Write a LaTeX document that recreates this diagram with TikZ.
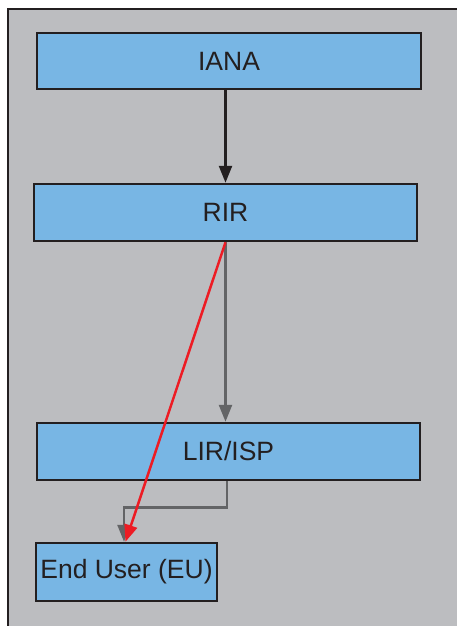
\documentclass[tikz,border=0pt]{standalone}
\usepackage{fontspec}
\setmainfont{Liberation Sans}
\usetikzlibrary{arrows.meta}
\definecolor{panel}{HTML}{BCBDC0}
\definecolor{boxfill}{HTML}{78B6E4}
\definecolor{ink}{HTML}{231F20}
\definecolor{flowgray}{HTML}{636466}
\definecolor{flowred}{HTML}{ED1C24}
\begin{document}
\begin{tikzpicture}[x=1pt,y=-1pt,
  tier/.style={draw=ink,line width=2.5pt,fill=boxfill,inner sep=0pt,
    font=\fontsize{26.5}{30}\selectfont,text=ink},
  link/.style={line width=2.5pt,-{Triangle[length=17pt,width=13pt]}}]
  \useasboundingbox (0,0) rectangle (457,626);
  % grey panel behind the hierarchy
  \draw[ink,line width=2.5pt,fill=panel] (8,9) rectangle (480,650);
  % registry tiers
  \node[tier,minimum width=384pt,minimum height=56pt] (iana) at (229,61) {IANA};
  \node[tier,minimum width=383pt,minimum height=57pt] (rir) at (225.5,212.5) {RIR};
  \node[tier,minimum width=383pt,minimum height=57pt] (lir) at (228.5,451.5) {LIR/ISP};
  \node[tier,minimum width=181pt,minimum height=58pt] (eu) at (126.5,572) {End User (EU)};
  % allocation paths
  \draw[link,ink] (iana.south -| rir.north) -- (rir.north);
  \draw[link,flowgray] (rir.south) -- (rir.south |- lir.north);
  \draw[link,flowgray] ([xshift=-1.5pt]lir.south) -- ++(0,26) -| ([xshift=-2.5pt]eu.north);
  \draw[link,flowred] (rir.south) -- ([xshift=-1pt]eu.north);
\end{tikzpicture}
\end{document}
